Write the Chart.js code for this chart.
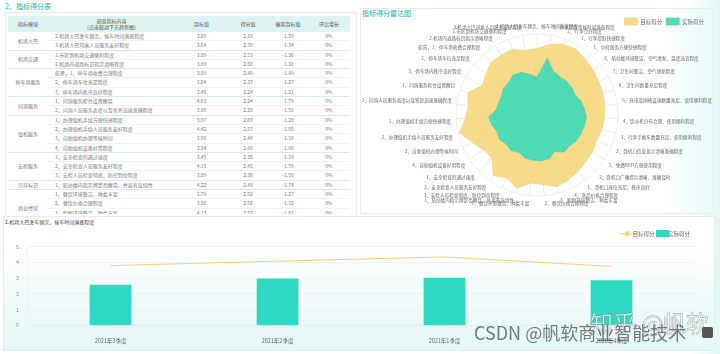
<!DOCTYPE html>
<html><head><meta charset="utf-8">
<script src="https://cdn.jsdelivr.net/npm/chart.js@4/dist/chart.umd.min.js"></script>
<style>
html,body{margin:0;padding:0;width:720px;height:354px;overflow:hidden;background:#fff;font-family:"Noto Sans CJK SC","Noto Sans",sans-serif;position:relative;}
.abs{position:absolute;}
#rightglow{left:690px;top:0;width:30px;height:354px;background:linear-gradient(to right,#ffffff,#e2f7f7);}
#t1{left:5px;top:1px;font-size:7px;color:#29b3a6;line-height:10px;}
#p1{left:5px;top:12px;width:350px;height:203px;border:1px solid #e6eeee;background:#fff;}
#tablewrap{left:8px;top:16px;width:344px;height:198px;overflow:hidden;}
table{border-collapse:collapse;width:342px;table-layout:fixed;font-size:5px;color:#7a7a7a;}
th{background:#ddf3f1;font-weight:normal;color:#555;height:16px;line-height:6.5px;padding:0;text-align:center;}
td{height:8.3px;line-height:8.3px;padding:0;text-align:center;white-space:nowrap;overflow:hidden;border-bottom:1px solid #eef4f4;}
td.ind{text-align:left;padding-left:7px;}
td.mod{border-bottom:1px solid #d9e9e9;color:#777;}
tr.last td{border-bottom:1px solid #d9e9e9;}
#p2{left:360px;top:8px;width:352px;height:204px;border:1px solid #e6eeee;background:linear-gradient(to right,#ffffff 85%,#eafafa);}
#t2{left:362px;top:8px;font-size:7px;color:#29b3a6;line-height:10px;}
#p3{left:3px;top:216px;width:710px;height:133px;border:1px solid #e3eded;background:linear-gradient(to bottom,#ffffff 20%,#e4f7f6);}
#t3{left:5px;top:218px;font-size:5px;color:#444;line-height:7px;}
#c2wrap{left:339px;top:12px;width:398px;height:200px;}
#c3wrap{left:4px;top:226px;width:708px;height:124px;}
#wm1{left:474px;top:321px;font-size:18px;color:rgba(70,70,70,0.72);white-space:nowrap;line-height:22px;}
#wm2{left:590px;top:309px;font-size:23px;color:rgba(255,255,255,0.85);white-space:nowrap;line-height:26px;-webkit-text-stroke:0.6px rgba(120,120,120,0.6);}
#icon{left:702px;top:327px;width:11px;height:11px;background:#555;border-radius:2px;}
</style></head>
<body>
<div class="abs" id="rightglow"></div>
<div class="abs" id="p1"></div>
<div class="abs" id="t1">2、指标得分表</div>
<div class="abs" id="tablewrap"><table id="tbl"></table></div>
<div class="abs" id="p2"></div>
<div class="abs" id="t2">指标得分雷达图</div>
<div class="abs" id="c2wrap"><canvas id="radar" width="398" height="200"></canvas></div>
<div class="abs" id="p3"></div>
<div class="abs" id="t3"></div>
<div class="abs" id="c3wrap"><canvas id="combo" width="708" height="124"></canvas></div>
<div class="abs" id="wm2">知乎 @帆软</div>
<div class="abs" id="wm1">CSDN @帆软商业智能技术</div>
<div class="abs" id="icon"></div>
<script>
// ---------- data (table order) ----------
const indicators = [
 '2.机场大巴发车频次、候车时间满意程度',
 '3.机场大巴司乘人员服务友好程度',
 '1.市区到机场交通便利程度',
 '2.机场内道路标识指示清晰程度',
 '航景，1、停车场收费合理程度',
 '2、停车场车位充足程度',
 '3、停车场内秩序良好程度',
 '1、问询服务柜台设置醒目',
 '2、问询人员服务态度以及答复迅速准确程度',
 '1、办理值机手续方便快捷程度',
 '2、办理值机手续人员服务友好程度',
 '3、自助值机办理等候时间',
 '4、自助值机设备好用程度',
 '1、安全检查的通过速度',
 '2、安全检查人员服务友好程度',
 '3、安检人员检查彻底、防控到位程度',
 '1、航站楼内指示牌是否醒目、并易有连续性',
 '1、餐饮环境整洁、种类丰富',
 '2、餐饮价格合理程度',
 '3、购物环境整洁、种类丰富',
 '4、商品价格合理程度',
 '1、登机口座位充足、秩序良好',
 '2、登机口广播提示清晰、准确及时',
 '1、免费WIFI方便使用程度',
 '2、登机口信息显示清晰准确程度',
 '3、行李手推车数量充足、使用便利程度',
 '4、饮水机分布合理、使用便利程度',
 '5、充电及网络设施数量充足、使用便利程度',
 '6、卫生间数量充足程度',
 '7、卫生间整洁、空气清新程度',
 '8、航站楼环境整洁、空气清新、温度适宜程度',
 '1、中转服务方便快捷程度',
 '1、行李提取快捷程度',
 '2、行李完好程度',
 '3、行李提取等候时间满意程度'
];
const indicatorModules = [
 '机场大巴','机场大巴','机场交通','机场交通','停车场服务','停车场服务','停车场服务',
 '问询服务','问询服务','值机服务','值机服务','值机服务','值机服务',
 '安检服务','安检服务','安检服务','引导标识','商业经营','商业经营','商业经营','商业经营',
 '登机口服务','登机口服务','设施服务','设施服务','设施服务','设施服务','设施服务','设施服务','设施服务','设施服务',
 '中转服务','行李服务','行李服务','行李服务'
];
const targetScores = [3.69,3.64,3.89,3.89,3.89,3.64,3.45,4.03,3.86,3.97,4.42,3.90,3.54,3.45,4.15,3.89,4.22,3.79,3.88,4.13,4.01,3.87,3.75,3.70,3.60,3.70,3.75,3.80,3.85,3.90,4.00,4.10,4.25,4.20,4.00];
const actualScores = [2.10,2.30,2.53,2.58,2.40,2.37,2.24,2.24,2.28,2.69,2.57,2.40,2.48,2.35,2.45,2.30,2.48,2.52,2.56,2.52,2.26,2.54,2.50,2.62,2.65,2.70,2.75,2.65,2.56,2.40,2.45,2.50,2.47,2.60,3.20];
const momChange = ['0%','0%','0%','0%','0%','0%','0%','0%','0%','0%','0%','0%','0%','0%','0%','0%','0%','0%','0%','0%','0%','0%','0%','0%','0%','0%','0%','0%','0%','0%','0%','0%','0%','0%','0%'];
const tableHeaders = ['指标模块','调查指标内容<br>（点击联动下方趋势图）','目标值','得分值','偏离目标值','环比增长'];
const legendNames = ['目标得分','实际得分'];
// trend of selected indicator
const quarters = ['2021年3季度','2021年2季度','2021年1季度','2020年4季度'];
const trendActual = [2.58,2.97,3.02,2.86];
const trendTarget = [3.79,4.07,4.34,3.74];

// ---------- table ----------
(function(){
  const colW=[40,127,53,40,40,42];
  let h='<colgroup>'+colW.map(w=>'<col style="width:'+w+'px">').join('')+'</colgroup><tr>'+tableHeaders.map(x=>'<th>'+x+'</th>').join('')+'</tr>';
  for(let i=0;i<indicators.length;i++){
    const m=indicatorModules[i];
    const first = i===0 || indicatorModules[i-1]!==m;
    const last = i===indicators.length-1 || indicatorModules[i+1]!==m;
    let span=1; if(first){let j=i+1; while(j<indicators.length && indicatorModules[j]===m){span++;j++;}}
    h+='<tr'+(last?' class="last"':'')+'>';
    if(first) h+='<td class="mod" rowspan="'+span+'">'+m+'</td>';
    const dev=(actualScores[i]-targetScores[i]).toFixed(2);
    h+='<td class="ind">'+indicators[i]+'</td><td>'+targetScores[i].toFixed(2)+'</td><td>'+actualScores[i].toFixed(2)+'</td><td>'+dev+'</td><td>'+momChange[i]+'</td></tr>';
  }
  document.getElementById('tbl').innerHTML=h;
})();

// ---------- radar (clockwise from top = reverse table order) ----------
const order=[0]; for(let i=indicators.length-1;i>=1;i--) order.push(i);
const YEL='rgba(246,213,122,0.88)', TEAL='#4fd9b5';
Chart.defaults.font.family='"Noto Sans CJK SC","Noto Sans",sans-serif';
const legendShift={id:'legendShift',afterInit(chart){
  const lg=chart.legend; if(!lg) return;
  const d=lg.draw.bind(lg);
  const s=chart.options.plugins.legendShift||{dx:0,dy:0};
  lg.draw=function(a){const c=chart.ctx;c.save();c.translate(s.dx,s.dy);d(a);c.restore();};
}};
// place radar: centre & radius in canvas px
const RADAR_GEOM={x:198,y:103,r:81};
function placeRadar(scale){
  const oldX=scale.xCenter, oldY=scale.yCenter, oldR=scale.drawingArea;
  if(oldX===undefined) return;
  scale.xCenter=RADAR_GEOM.x; scale.yCenter=RADAR_GEOM.y; scale.drawingArea=RADAR_GEOM.r;
  const dR=RADAR_GEOM.r-oldR;
  (scale._pointLabelItems||[]).forEach((it,i)=>{
    const a=scale.getIndexAngle(i)-Math.PI/2;
    const dx=RADAR_GEOM.x-oldX+dR*Math.cos(a), dy=RADAR_GEOM.y-oldY+dR*Math.sin(a);
    it.x+=dx; it.left+=dx; it.right+=dx; it.y+=dy; it.top+=dy; it.bottom+=dy;
  });
}
new Chart(document.getElementById('radar'),{
  type:'radar',
  data:{labels:order.map(i=>indicators[i]),
    datasets:[
      {label:legendNames[0],data:order.map(i=>targetScores[i]),backgroundColor:YEL,borderColor:'#f1cf6e',borderWidth:0.6,pointRadius:0,fill:true,order:1},
      {label:legendNames[1],data:order.map(i=>actualScores[i]),backgroundColor:TEAL,borderColor:'#46d2ad',borderWidth:0.6,pointRadius:0,fill:true,order:0}
    ]},
  plugins:[legendShift],
  options:{responsive:false,animation:false,
    layout:{padding:0},
    plugins:{legendShift:{dx:-29,dy:2},
      legend:{position:'top',align:'end',labels:{boxWidth:13,boxHeight:7,font:{size:5.5},color:'#666',padding:4,sort:(a,b)=>a.datasetIndex-b.datasetIndex}},tooltip:{enabled:false}},
    scales:{r:{min:0,max:4.5,ticks:{display:false,stepSize:1.5},
      afterFit:placeRadar,
      grid:{circular:true,color:'#e6e6e6',lineWidth:0.7},
      angleLines:{color:'#e2e2e2',lineWidth:0.7},
      pointLabels:{font:{size:4.6},color:'#666',padding:5}}}
  }
});

// ---------- combo ----------
document.getElementById('t3').textContent=indicators[0];
function mkLineIcon(){const c=document.createElement('canvas');c.width=16;c.height=7;const g=c.getContext('2d');g.strokeStyle='#f2cf5f';g.lineWidth=1;g.beginPath();g.moveTo(0,3.5);g.lineTo(16,3.5);g.stroke();g.fillStyle='#f2cf5f';g.beginPath();g.arc(8,3.5,2.5,0,Math.PI*2);g.fill();return c;}
function mkBoxIcon(){const c=document.createElement('canvas');c.width=13;c.height=7;const g=c.getContext('2d');g.fillStyle='#2ed8c3';g.fillRect(0,0,13,7);return c;}
const lineIcon=mkLineIcon(), boxIcon=mkBoxIcon();
new Chart(document.getElementById('combo'),{
  data:{labels:quarters,datasets:[
    {type:'line',label:legendNames[0],data:trendTarget,borderColor:'#f4d36c',borderWidth:1,pointRadius:0,pointStyle:lineIcon,tension:0,order:0},
    {type:'bar',label:legendNames[1],data:trendActual,backgroundColor:'#2ed8c3',barPercentage:0.5,categoryPercentage:0.5,pointStyle:boxIcon,order:1}
  ]},
  options:{responsive:false,animation:false,
    layout:{padding:{left:4,right:17,top:0,bottom:2}},
    plugins:{legend:{position:'top',align:'end',labels:{usePointStyle:true,font:{size:5.5},color:'#666',padding:5,sort:(a,b)=>a.datasetIndex-b.datasetIndex}},tooltip:{enabled:false}},
    scales:{
      x:{grid:{display:false},border:{color:'#e4eeee'},ticks:{font:{size:5.5},color:'#666',padding:4}},
      y:{min:0,max:5,ticks:{stepSize:1,font:{size:5.5},color:'#888',padding:8},grid:{color:'#eef3f3',drawTicks:false},border:{display:true,color:'#eef3f3'}}
    }
  }
});
</script>
</body></html>
